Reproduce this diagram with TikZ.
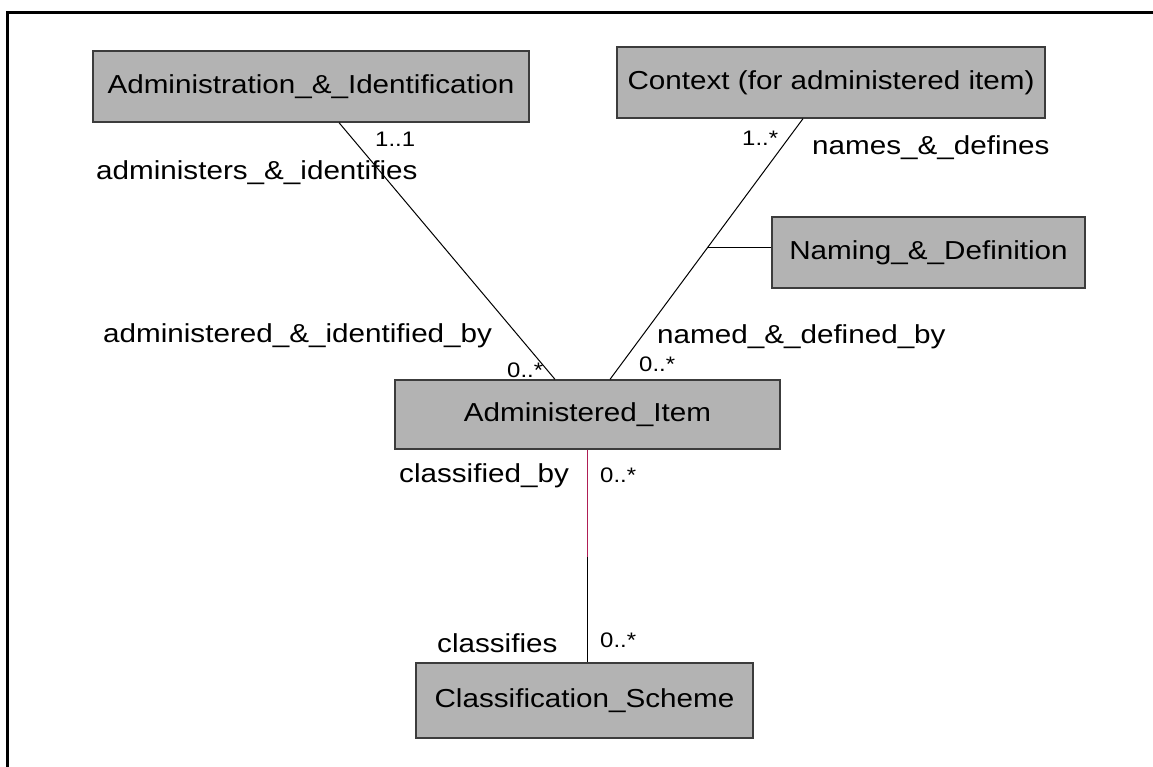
\documentclass[tikz,border=0pt]{standalone}
\usepackage{fontspec}
\setmainfont{Liberation Sans}[FakeStretch=1.14]
\usetikzlibrary{calc}
\definecolor{boxfill}{RGB}{179,179,179}
\definecolor{boxline}{RGB}{60,60,60}
\definecolor{maroonline}{RGB}{175,30,85}
\tikzset{
  umlbox/.style={draw=boxline, line width=1.3pt, fill=boxfill, rectangle, inner sep=0pt,
    font=\fontsize{26}{30}\selectfont, text=black},
  conn/.style={draw=black, line width=1pt},
  rolelbl/.style={anchor=base west, inner sep=0pt, font=\fontsize{26}{30}\selectfont},
  multlbl/.style={anchor=base west, inner sep=0pt, font=\fontsize{21}{24}\selectfont},
  frameline/.style={draw=black, line width=3pt}
}
\begin{document}
\begin{tikzpicture}[x=1pt, y=-1pt]
\useasboundingbox (0,0) rectangle (1153,767);
% frame
\coordinate (ftr) at (1153,12.5);
\coordinate (ftl) at (7.5,12.5);
\coordinate (fbl) at (7.5,767);
\draw[frameline] (ftr) -- (ftl) -- (fbl);

% boxes
\node[umlbox, minimum width=436pt, minimum height=71pt] (ai) at (311,86.5) {Administration\_\&\_Identification};
\node[umlbox, minimum width=428pt, minimum height=71pt] (ctx) at (831,82.5) {Context (for administered item)};
\node[umlbox, minimum width=313pt, minimum height=71pt] (nd) at (928.5,252.5) {Naming\_\&\_Definition};
\node[umlbox, minimum width=385pt, minimum height=69pt] (item) at (587.5,414.5) {Administered\_Item};
\node[umlbox, minimum width=337pt, minimum height=75pt] (cls) at (584.5,700.5) {Classification\_Scheme};

% connectors
\coordinate (a1) at ([xshift=28pt]ai.south);
\coordinate (a2) at ([xshift=-32.5pt]item.north);
\draw[conn] (a1) -- (a2);
\coordinate (c1) at ([xshift=-28pt]ctx.south);
\coordinate (c2) at ([xshift=22.5pt]item.north);
\draw[conn] (c1) -- (c2);
\coordinate (j) at ($(c1)!0.496!(c2)$);
\draw[conn] (j) -- (nd.west |- j);
\coordinate (vm) at (587.5,557);
\draw[conn, draw=maroonline] (item.south) -- (vm);
\draw[conn] (vm) -- (item.south |- cls.north);

% labels
\node[multlbl] (m1) at (375,147) {1..1};
\node[rolelbl] (r1) at (96,180) {administers\_\&\_identifies};
\node[multlbl] (m2) at (742,146) {1..*};
\node[rolelbl] (r2) at (812,155) {names\_\&\_defines};
\node[rolelbl] (r3) at (103,342) {administered\_\&\_identified\_by};
\node[multlbl] (m3) at (507,377) {0..*};
\node[rolelbl] (r4) at (657,343) {named\_\&\_defined\_by};
\node[multlbl] (m4) at (639,371) {0..*};
\node[rolelbl] (r5) at (399,482) {classified\_by};
\node[multlbl] (m5) at (600,482) {0..*};
\node[rolelbl] (r6) at (437,652) {classifies};
\node[multlbl] (m6) at (600,647) {0..*};
\end{tikzpicture}
\end{document}
